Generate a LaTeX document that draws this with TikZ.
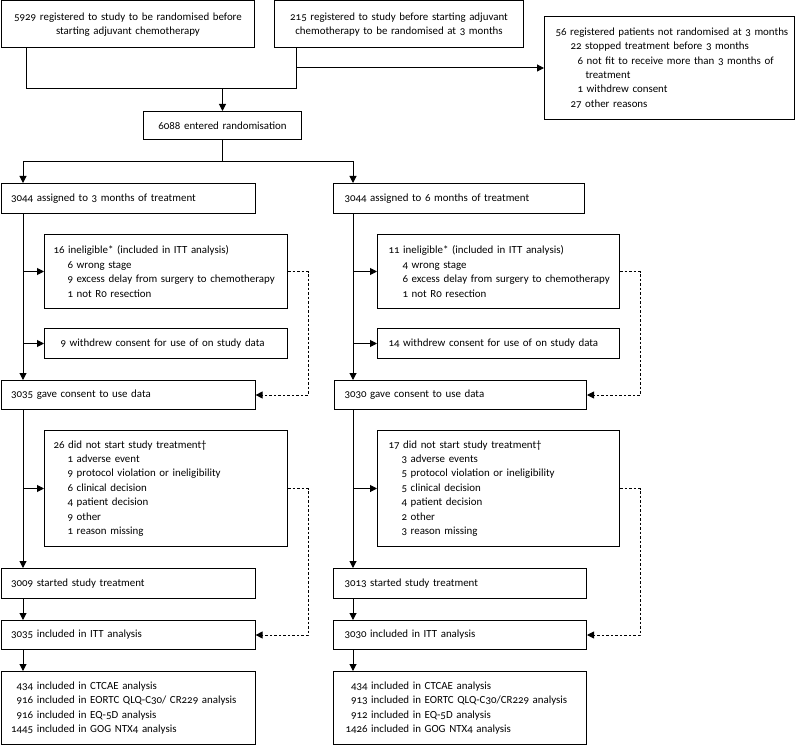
\documentclass[tikz,border=0pt]{standalone}
\usepackage{fontspec}
\setmainfont{Carlito}[Numbers=OldStyle, WordSpace=0.75]
\usetikzlibrary{arrows.meta}
\begin{document}
\begin{tikzpicture}[x=1pt,y=-1pt,
  every node/.style={font=\fontsize{10.9}{14.4}\selectfont, text=black},
  bx/.style={draw=black, line width=1pt, rectangle, anchor=north west, inner ysep=0pt, align=left},
  bxc/.style={bx, align=center},
  arr/.style={line width=1pt, -{Triangle[length=7pt,width=7pt]}},
  ln/.style={line width=1pt},
  dsh/.style={line width=0.9pt, dash pattern=on 2.5pt off 2pt, -{Triangle[length=7pt,width=7pt]}}]
\useasboundingbox (0,0) rectangle (795,746);

% top
\node[bxc, inner xsep=4pt, text width=245pt, minimum height=47pt] (A) at (1,0.5)
  {5929 registered to study to be randomised before\\starting adjuvant chemotherapy};
\node[bxc, inner xsep=4pt, text width=241pt, minimum height=47pt] (B) at (274,0.5)
  {215 registered to study before starting adjuvant\\chemotherapy to be randomised at 3 months};
\node[bxc, inner xsep=4pt, text width=150pt, minimum height=28pt] (C) at (143,111)
  {6088 entered randomisation};
\node[bx, inner xsep=11pt, text width=228pt, minimum height=103pt] (D) at (544,16)
  {\mbox{56 registered patients not randomised at 3 months}\\
   \hspace*{15pt}22 stopped treatment before 3 months\\
   \hspace*{22pt}\mbox{6 not fit to receive more than 3 months of}\\
   \hspace*{30pt}treatment\\
   \hspace*{22pt}1 withdrew consent\\
   \hspace*{15pt}27 other reasons};

% left column
\node[bx, inner xsep=10pt, text width=234pt, minimum height=30pt] (E) at (0.6,183)
  {3044 assigned to 3 months of treatment};
\node[bx, inner xsep=9pt, text width=225pt, minimum height=74pt] (H) at (44,234)
  {16 ineligible* (included in ITT analysis)\\
   \hspace*{14pt}6 wrong stage\\
   \hspace*{14pt}\mbox{9 excess delay from surgery to chemotherapy}\\
   \hspace*{14pt}1 not R0 resection};
\node[bx, inner xsep=16pt, text width=211pt, minimum height=30pt] (I) at (44,328)
  {\mbox{9 withdrew consent for use of on study data}};
\node[bx, inner xsep=10pt, text width=234pt, minimum height=29pt] (G) at (0.6,380)
  {3035 gave consent to use data};
\node[bx, inner xsep=9pt, text width=225pt, minimum height=116pt] (J) at (44,430)
  {26 did not start study treatment\textdagger\\
   \hspace*{14pt}1 adverse event\\
   \hspace*{14pt}9 protocol violation or ineligibility\\
   \hspace*{14pt}6 clinical decision\\
   \hspace*{14pt}4 patient decision\\
   \hspace*{14pt}9 other\\
   \hspace*{14pt}1 reason missing};
\node[bx, inner xsep=10pt, text width=234pt, minimum height=30pt] (K) at (0.6,568)
  {3009 started study treatment};
\node[bx, inner xsep=10pt, text width=234pt, minimum height=29pt] (L) at (0.6,620)
  {3035 included in ITT analysis};
\node[bx, inner xsep=10pt, text width=234pt, minimum height=73pt] (M) at (0.6,671)
  {\phantom{1}434 included in CTCAE analysis\\
   \phantom{1}\mbox{916 included in EORTC QLQ-C30/ CR229 analysis}\\
   \phantom{1}916 included in EQ-5D analysis\\
   1445 included in GOG NTX4 analysis};

% right column
\node[bx, inner xsep=11pt, text width=229pt, minimum height=30pt] (F) at (333,183)
  {3044 assigned to 6 months of treatment};
\node[bx, inner xsep=11pt, text width=220pt, minimum height=74pt] (H2) at (377,234)
  {11 ineligible* (included in ITT analysis)\\
   \hspace*{14pt}4 wrong stage\\
   \hspace*{14pt}\mbox{6 excess delay from surgery to chemotherapy}\\
   \hspace*{14pt}1 not R0 resection};
\node[bx, inner xsep=11pt, text width=220pt, minimum height=30pt] (I2) at (377,328)
  {\mbox{14 withdrew consent for use of on study data}};
\node[bx, inner xsep=10pt, text width=232pt, minimum height=29pt] (G2) at (334,380)
  {3030 gave consent to use data};
\node[bx, inner xsep=11pt, text width=220pt, minimum height=116pt] (J2) at (377,430)
  {17 did not start study treatment\textdagger\\
   \hspace*{13pt}3 adverse events\\
   \hspace*{13pt}5 protocol violation or ineligibility\\
   \hspace*{13pt}5 clinical decision\\
   \hspace*{13pt}4 patient decision\\
   \hspace*{13pt}2 other\\
   \hspace*{13pt}3 reason missing};
\node[bx, inner xsep=11pt, text width=231pt, minimum height=30pt] (K2) at (333,568)
  {3013 started study treatment};
\node[bx, inner xsep=11pt, text width=231pt, minimum height=29pt] (L2) at (333,620)
  {3030 included in ITT analysis};
\node[bx, inner xsep=12pt, text width=229pt, minimum height=73pt] (M2) at (333,671)
  {\phantom{1}434 included in CTCAE analysis\\
   \phantom{1}\mbox{913 included in EORTC QLQ-C30/CR229 analysis}\\
   \phantom{1}912 included in EQ-5D analysis\\
   1426 included in GOG NTX4 analysis};

% top connectors
\coordinate (jl) at (26,89);
\coordinate (jr) at (296,89);
\coordinate (jb) at (296,68);
\coordinate (sl) at (23,162);
\coordinate (sr) at (353,162);
\coordinate (tl) at (23,0);
\coordinate (tr) at (353,0);
\coordinate (dl) at (308,0);
\coordinate (dr) at (640,0);

\draw[ln] (A.south -| jl) -- (jl) -- (jr) -- (B.south -| jr);
\draw[arr] (C.north |- jl) -- (C.north);
\draw[arr] (jb) -- (D.west |- jb);
\draw[arr] (C.south) |- (sl) -- (E.north -| sl);
\draw[arr] (C.south) |- (sr) -- (F.north -| sr);

% left trunk
\draw[arr] (E.south -| tl) -- (G.north -| tl);
\draw[arr] (tl |- H.west) -- (H.west);
\draw[arr] (tl |- I.west) -- (I.west);
\draw[arr] (G.south -| tl) -- (K.north -| tl);
\draw[arr] (tl |- J.west) -- (J.west);
\draw[arr] (K.south -| tl) -- (L.north -| tl);
\draw[arr] (L.south -| tl) -- (M.north -| tl);
\draw[dsh] (H.east) -- (H.east -| dl) |- (G.east);
\draw[dsh] (J.east) -- (J.east -| dl) |- (L.east);

% right trunk
\draw[arr] (F.south -| tr) -- (G2.north -| tr);
\draw[arr] (tr |- H2.west) -- (H2.west);
\draw[arr] (tr |- I2.west) -- (I2.west);
\draw[arr] (G2.south -| tr) -- (K2.north -| tr);
\draw[arr] (tr |- J2.west) -- (J2.west);
\draw[arr] (K2.south -| tr) -- (L2.north -| tr);
\draw[arr] (L2.south -| tr) -- (M2.north -| tr);
\draw[dsh] (H2.east) -- (H2.east -| dr) |- (G2.east);
\draw[dsh] (J2.east) -- (J2.east -| dr) |- (L2.east);
\end{tikzpicture}
\end{document}
